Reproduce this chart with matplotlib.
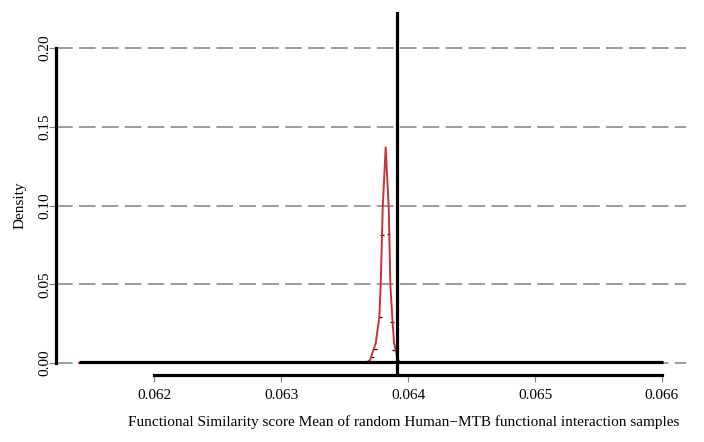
import numpy as np
import matplotlib.pyplot as plt

plt.rcParams['font.family'] = ['Liberation Serif', 'DejaVu Serif']
plt.rcParams['lines.scale_dashes'] = False

# density curve of the random sample means
dens_x = [0.061409, 0.063669, 0.063701, 0.063746, 0.063774, 0.063785,
          0.063801, 0.063824, 0.063848, 0.063861, 0.063876, 0.063890,
          0.063921, 0.063945, 0.066008]
dens_y = [0.0, 0.0, 0.0019, 0.0127, 0.0292, 0.0495,
          0.099, 0.137, 0.099, 0.0495, 0.0292, 0.0127,
          0.0019, 0.0, 0.0]

# histogram bar tops that show beside the curve
hist_x = [0.063717, 0.063740, 0.063780, 0.063795, 0.063843, 0.063874, 0.063882]
hist_y = [0.0038, 0.0089, 0.0292, 0.0813, 0.0819, 0.026, 0.0083]

observed = 0.063913          # observed mean (vertical line)
base_range = [0.061409, 0.066008]

x_ticks = [0.062, 0.063, 0.064, 0.065, 0.066]
x_labels = ['0.062', '0.063', '0.064', '0.065', '0.066']
y_ticks = [0.00, 0.05, 0.10, 0.15, 0.20]
y_labels = ['0.00', '0.05', '0.10', '0.15', '0.20']

fig = plt.figure(figsize=(7.04, 4.42), dpi=100)
ax = fig.add_axes([56 / 704, 67 / 442, 630 / 704, 363 / 442])

# dashed grid
for yv in y_ticks:
    ax.axhline(yv, color='#808080', lw=1.1, linestyle=(0, (12, 4.5)), zorder=1)

# baseline
ax.plot(base_range, [0.0006, 0.0006], color='black', lw=2.3, zorder=3,
        solid_capstyle='butt')

# histogram tops
ax.hlines(hist_y, [h - 0.000012 for h in hist_x], [h + 0.000012 for h in hist_x],
          color='black', lw=0.9, zorder=2)

# density
ax.plot(dens_x, dens_y, color='#c8323c', lw=1.4, zorder=2)

# observed value
ax.axvline(observed, color='black', lw=2.3, zorder=4)

ax.set_xlim(0.061228, 0.066189)
ax.set_ylim(-0.00762, 0.2229)

for s in ['top', 'right']:
    ax.spines[s].set_visible(False)
ax.spines['left'].set_bounds(0.0, 0.2)
ax.spines['bottom'].set_bounds(0.062, 0.066)
ax.spines['left'].set_linewidth(2.3)
ax.spines['bottom'].set_linewidth(2.3)

ax.set_xticks(x_ticks)
ax.set_xticklabels(x_labels)
ax.set_yticks(y_ticks)
ax.set_yticklabels(y_labels, rotation=90, va='center')
ax.tick_params(axis='x', length=5, width=0.8, color='#808080', labelsize=11, pad=5)
ax.tick_params(axis='y', length=5, width=0.8, color='#808080', labelsize=11, pad=-2)

fig.text(20 / 704, 1 - 205 / 442, 'Density', rotation=90, ha='center', va='center',
         fontsize=11)
fig.text(0.5 * (127 + 680) / 704, 1 - 422 / 442,
         'Functional Similarity score Mean of random Human\u2212MTB functional interaction samples',
         ha='center', va='center', fontsize=11)

fig.savefig('out.png', dpi=100)
